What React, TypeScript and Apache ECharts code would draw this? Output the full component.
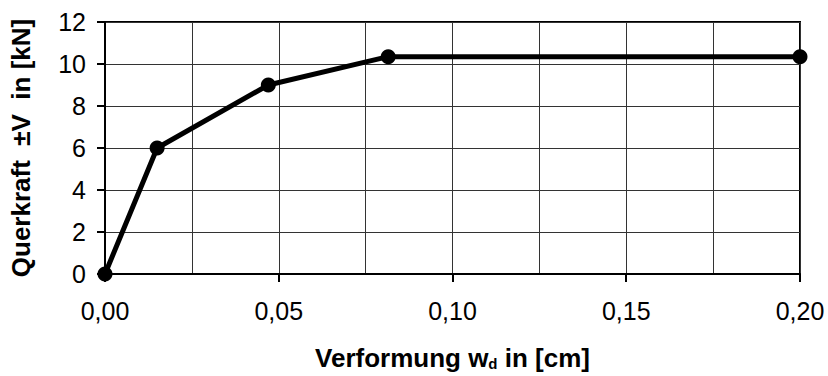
import React, { useEffect, useRef } from "react";
import * as echarts from "echarts";

const deformation = [0, 0.015, 0.047, 0.0815, 0.2];
const shearForce = [0, 6, 9, 10.35, 10.35];
const xTicks = [0, 0.05, 0.1, 0.15, 0.2];
const yTicks = [0, 2, 4, 6, 8, 10, 12];

export default function App() {
  const ref = useRef<HTMLDivElement>(null);
  useEffect(() => {
    if (!ref.current) return;
    const chart = echarts.init(ref.current, null, { renderer: "svg" });
    const font = "'Liberation Sans', Arial, sans-serif";
    chart.setOption({
      animation: false,
      backgroundColor: "#fff",
      textStyle: { fontFamily: font, color: "#000" },
      grid: {
        left: 104,
        right: 28,
        top: 22,
        bottom: 101.5,
        show: true,
        borderColor: "#000",
        borderWidth: 2,
        backgroundColor: "transparent",
      },
      xAxis: {
        type: "value",
        min: xTicks[0],
        max: xTicks[xTicks.length - 1],
        interval: 0.05,
        name: "Verformung w{sub|d} in [cm]",
        nameLocation: "middle",
        nameGap: 71,
        nameTextStyle: {
          fontFamily: font,
          fontSize: 26,
          fontWeight: "bold",
          color: "#000",
          rich: {
            sub: {
              fontFamily: font,
              fontSize: 15,
              fontWeight: "bold",
              color: "#000",
              verticalAlign: "bottom",
              lineHeight: 14,
            },
          },
        },
        axisLine: { show: true, onZero: false, lineStyle: { color: "#000", width: 2 } },
        axisTick: { show: true, inside: false, length: 8, lineStyle: { color: "#000", width: 2 } },
        axisLabel: {
          fontFamily: font,
          fontSize: 25,
          color: "#000",
          margin: 24,
          formatter: (v: number) => v.toFixed(2).replace(".", ","),
        },
        splitLine: { show: true, lineStyle: { color: "#333", width: 1 } },
        minorTick: { show: false, splitNumber: 2 },
        minorSplitLine: { show: true, lineStyle: { color: "#333", width: 1 } },
      },
      yAxis: {
        type: "value",
        min: yTicks[0],
        max: yTicks[yTicks.length - 1],
        interval: 2,
        name: "Querkraft  ±V  in [kN]",
        nameLocation: "middle",
        nameGap: 71,
        nameTextStyle: {
          fontFamily: font,
          fontSize: 26,
          fontWeight: "bold",
          color: "#000",
        },
        axisLine: { show: true, onZero: false, lineStyle: { color: "#000", width: 2 } },
        axisTick: { show: true, inside: false, length: 8, lineStyle: { color: "#000", width: 2 } },
        axisLabel: { fontFamily: font, fontSize: 25, color: "#000", margin: 19 },
        splitLine: { show: true, lineStyle: { color: "#333", width: 1 } },
      },
      series: [
        {
          type: "line",
          data: deformation.map((x, i) => [x, shearForce[i]]),
          symbol: "circle",
          symbolSize: 15,
          itemStyle: { color: "#000" },
          lineStyle: { color: "#000", width: 5 },
          clip: false,
          z: 5,
        },
      ],
    });
    return () => chart.dispose();
  }, []);
  return (
    <div
      ref={ref}
      style={{ position: "fixed", left: 0, top: 0, width: 828, height: 376, background: "#fff" }}
    />
  );
}
